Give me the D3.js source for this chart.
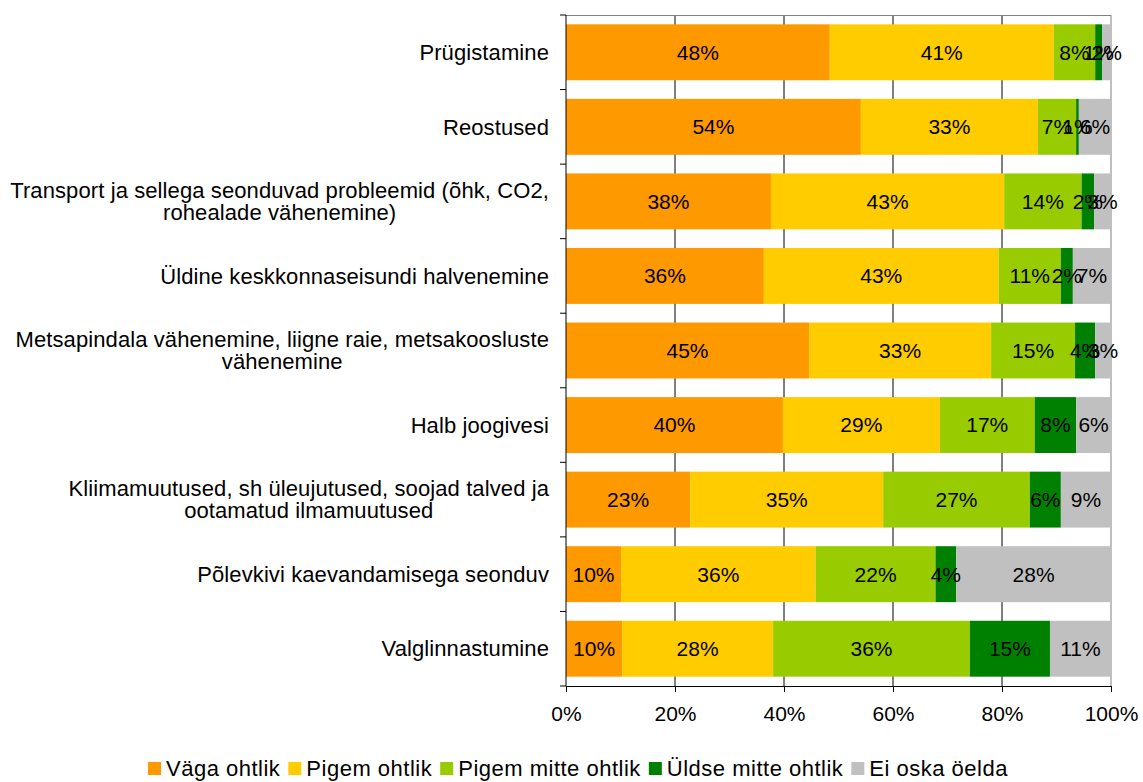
<!DOCTYPE html>
<html>
<head>
<meta charset="utf-8">
<script src="https://cdn.jsdelivr.net/npm/d3@7"></script>
<style>
  body { margin: 0; background: #fff; }
  svg text { font-family: "Liberation Sans", Arial, sans-serif; fill: #000; }
</style>
</head>
<body>
<div id="chart"></div>
<script>
// categories (each entry is a list of label lines)
var categories = [
    ["Prügistamine"],
    ["Reostused"],
    ["Transport ja sellega seonduvad probleemid (õhk, CO2,", "rohealade vähenemine)"],
    ["Üldine keskkonnaseisundi halvenemine"],
    ["Metsapindala vähenemine, liigne raie, metsakoosluste", "vähenemine"],
    ["Halb joogivesi"],
    ["Kliimamuutused, sh üleujutused, soojad talved ja", "ootamatud ilmamuutused"],
    ["Põlevkivi kaevandamisega seonduv"],
    ["Valglinnastumine"]
];
var seriesNames = ["Väga ohtlik", "Pigem ohtlik", "Pigem mitte ohtlik", "Üldse mitte ohtlik", "Ei oska öelda"];
var seriesColors = ["#FF9900", "#FFCC00", "#99CC00", "#008000", "#C0C0C0"];

// shares in percent, one array per series (same order as categories)
var vagaOhtlik   = [48.4, 54.1, 37.6, 36.3, 44.6, 39.8, 22.8, 10.1, 10.3];
var pigemOhtlik  = [41.1, 32.5, 42.8, 43.1, 33.4, 28.8, 35.4, 35.7, 27.7];
var pigemMitte   = [7.6, 7.0, 14.2, 11.4, 15.4, 17.4, 26.9, 22.0, 36.1];
var uldseMitte   = [1.3, 0.5, 2.3, 2.2, 3.7, 7.6, 5.7, 3.8, 14.7];
var eiOska       = [1.6, 5.9, 3.1, 7.0, 2.9, 6.4, 9.2, 28.4, 11.2];
var xTicks = [0, 20, 40, 60, 80, 100];

var series = [vagaOhtlik, pigemOhtlik, pigemMitte, uldseMitte, eiOska];

// set the dimensions and margins of the graph
var margin = {top: 15, right: 32, bottom: 96, left: 566},
    width = 1143 - margin.left - margin.right,
    height = 782 - margin.top - margin.bottom;

var svgRoot = d3.select("#chart")
    .append("svg")
    .attr("width", 1143)
    .attr("height", 782);
var svg = svgRoot.append("g")
    .attr("transform", "translate(" + margin.left + "," + margin.top + ")");

var x = d3.scaleLinear().domain([0, 100]).range([0, width]);
var y = d3.scaleBand().domain(d3.range(categories.length)).range([0, height]).paddingInner(0.25).paddingOuter(0.125);

// gridlines
svg.selectAll(".grid")
    .data(xTicks.slice(1))
    .enter().append("line")
    .attr("x1", function (d) { return x(d); })
    .attr("x2", function (d) { return x(d); })
    .attr("y1", 0)
    .attr("y2", height)
    .attr("stroke", function (d) { return d === 100 ? "#808080" : "#000"; })
    .attr("stroke-width", 1);
svg.append("line")
    .attr("x1", 0).attr("x2", width).attr("y1", 0.5).attr("y2", 0.5)
    .attr("stroke", "#808080");

// stacked segments
var rows = categories.map(function (c, i) {
    var start = 0;
    return series.map(function (s, k) {
        var seg = {row: i, k: k, x0: start, x1: start + s[i], v: s[i]};
        start += s[i];
        return seg;
    });
});

var segs = d3.merge(rows);
svg.selectAll(".seg")
    .data(segs)
    .enter().append("rect")
    .attr("x", function (d) { return x(d.x0); })
    .attr("width", function (d) { return x(d.x1) - x(d.x0); })
    .attr("y", function (d) { return y(d.row); })
    .attr("height", y.bandwidth())
    .attr("fill", function (d) { return seriesColors[d.k]; });

svg.selectAll(".val")
    .data(segs)
    .enter().append("text")
    .attr("x", function (d) { return (x(d.x0) + x(d.x1)) / 2; })
    .attr("y", function (d) { return y(d.row) + y.bandwidth() / 2; })
    .attr("dy", "0.35em")
    .attr("text-anchor", "middle")
    .style("font-size", "21px")
    .text(function (d) { return Math.round(d.v) + "%"; });

// Y axis (ticks between categories)
var yAxis = svg.append("g");
yAxis.append("line")
    .attr("x1", 0).attr("x2", 0).attr("y1", 0).attr("y2", height)
    .attr("stroke", "#000");
var step = y.step();
yAxis.selectAll(".yt")
    .data(d3.range(categories.length + 1))
    .enter().append("line")
    .attr("x1", -6).attr("x2", 0)
    .attr("y1", function (d) { return d * step; })
    .attr("y2", function (d) { return d * step; })
    .attr("stroke", "#000");

// category labels, wrapped and centred like the original
var labelRight = -17;
var lineH = 22;
categories.forEach(function (lines, i) {
    var g = svg.append("text")
        .attr("text-anchor", "middle")
        .style("font-size", "22px")
        .style("letter-spacing", "0.1px");
    var tspans = lines.map(function (l) { return g.append("tspan").text(l); });
    var maxW = d3.max(tspans, function (t) { return t.node().getComputedTextLength(); });
    var cx = labelRight - maxW / 2;
    var cy = y(i) + y.bandwidth() / 2 - (lines.length - 1) * lineH / 2;
    tspans.forEach(function (t, j) {
        t.attr("x", cx).attr("y", cy + j * lineH).attr("dy", "0.35em");
    });
});

// X axis
var xAxis = svg.append("g")
    .attr("transform", "translate(0," + height + ")")
    .call(d3.axisBottom(x).tickValues(xTicks).tickSize(6).tickPadding(14)
        .tickFormat(function (d) { return d + "%"; }));
xAxis.select(".domain").attr("stroke", "#000");
xAxis.selectAll("text").style("font-size", "21px").style("font-family", "Liberation Sans, Arial, sans-serif");

// legend
var legend = svgRoot.append("g").attr("transform", "translate(148,776)");
var lx = 0;
seriesNames.forEach(function (name, k) {
    legend.append("rect")
        .attr("x", lx).attr("y", -14)
        .attr("width", 13).attr("height", 13)
        .attr("fill", seriesColors[k]);
    var t = legend.append("text")
        .attr("x", lx + 18).attr("y", 0)
        .style("font-size", "22px")
        .style("letter-spacing", "0.5px")
        .text(name);
    lx += 18 + t.node().getComputedTextLength() + 8;
});
</script>
</body>
</html>
